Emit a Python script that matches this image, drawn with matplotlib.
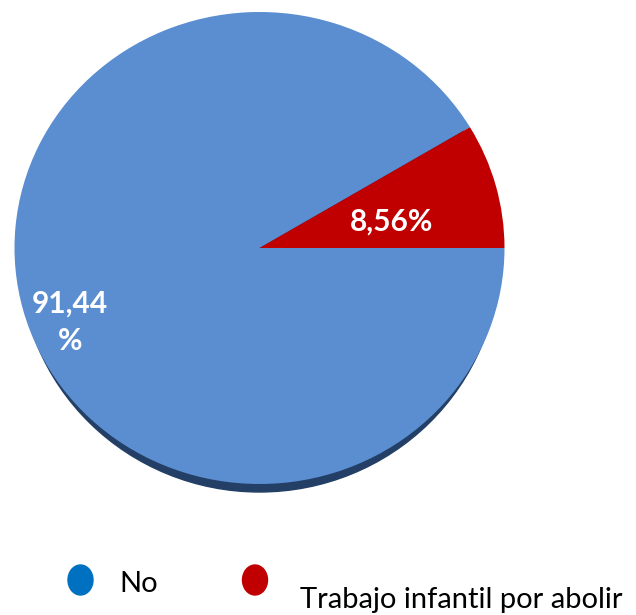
import matplotlib.pyplot as plt
from matplotlib.patches import Ellipse

categories = ["No", "Trabajo infantil por abolir"]
values = [91.44, 8.56]
pie_colors = ["#5A8ED0", "#C00000"]
legend_colors = ["#0070C0", "#C00000"]

plt.rcParams["font.family"] = ["Lato", "DejaVu Sans"]

W, H = 636, 615
fig = plt.figure(figsize=(W / 100, H / 100), dpi=100)

# pie is slightly squashed (tilted look): center (259.5, 248), rx 245, ry 236 px
cx, cy, rx, ry = 259.5, 248, 245, 236
ax = fig.add_axes([(cx - rx) / W, 1 - (cy + ry) / H, 2 * rx / W, 2 * ry / H])

# dark rim underneath, only showing along the bottom
ax.add_patch(Ellipse((0, -8 / ry), 1.96, 2, color="#233F66", zorder=0, clip_on=False))

start = values[1] / sum(values) * 360
wedges, _ = ax.pie(values, colors=pie_colors, startangle=start, counterclock=True,
                   radius=1.0, wedgeprops=dict(linewidth=0))
for w in wedges:
    w.set_zorder(1)
ax.set_xlim(-1, 1)
ax.set_ylim(-1, 1)
ax.set_aspect("auto")
ax.axis("off")

def fmt(v):
    return f"{v:.2f}".replace(".", ",") + "%"

ax.text(0.541, 0.11, fmt(values[1]), color="white", fontsize=21.5, fontweight="bold",
        ha="center", va="center", zorder=3)
ax.text(-0.774, -0.314, fmt(values[0]).replace("%", "\n%"), color="white", fontsize=21.5,
        fontweight="bold", ha="center", va="center", linespacing=1.4, zorder=3)

# legend drawn in pixel coordinates
lax = fig.add_axes([0, 0, 1, 75 / H])
lax.set_xlim(0, W)
lax.set_ylim(H, H - 75)
lax.axis("off")
marker_pos = [(80.5, 580), (255, 580)]
text_pos = [(119, 584), (300, 600)]
for (mx, my), (tx, ty), lab, col in zip(marker_pos, text_pos, categories, legend_colors):
    lax.add_patch(Ellipse((mx, my), 25, 30, color=col))
    lax.text(tx, ty, lab, fontsize=21, color="black", ha="left", va="center")

fig.savefig("out.png", dpi=100)
